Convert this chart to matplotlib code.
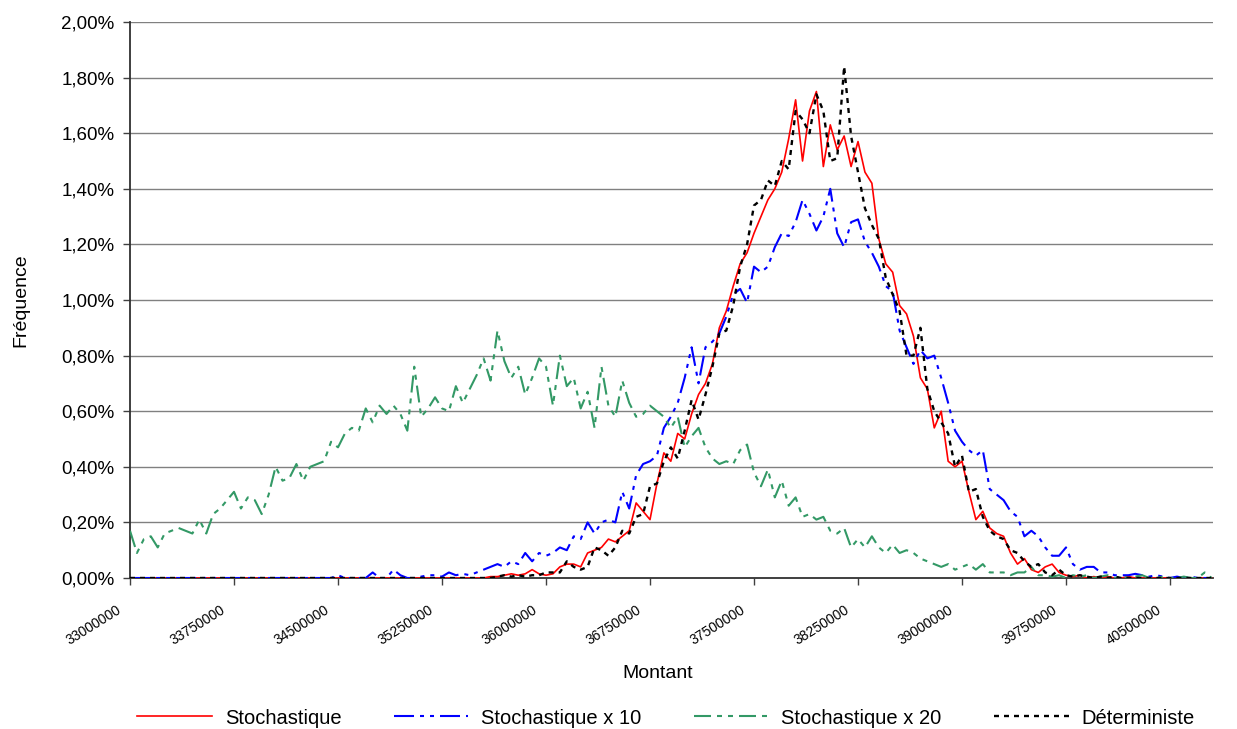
import numpy as np
import matplotlib
matplotlib.use("Agg")
import matplotlib.pyplot as plt
from matplotlib.ticker import FuncFormatter
from matplotlib.transforms import ScaledTranslation

plt.rcParams['font.family'] = ['Liberation Sans', 'DejaVu Sans']
plt.rcParams['lines.scale_dashes'] = False

# Category axis: Montant from 33 000 000 to 40 800 000, step 50 000 (157 categories)
montant = np.arange(33000000, 40800001, 50000)

# Frequencies in percent
stochastique = [0]*50 + [
    0, 0, 0.005, 0.005, 0.01, 0.015, 0.01, 0.015, 0.03, 0.015,
    0.01, 0.015, 0.04, 0.05, 0.05, 0.04, 0.09, 0.10, 0.11, 0.14,
    0.13, 0.15, 0.17, 0.27, 0.24, 0.21, 0.34, 0.45, 0.42, 0.52,
    0.50, 0.59, 0.66, 0.70, 0.77, 0.90, 0.96, 1.05, 1.13, 1.17,
    1.24, 1.30, 1.36, 1.40, 1.46, 1.58, 1.72, 1.50, 1.68, 1.75,
    1.48, 1.63, 1.54, 1.59, 1.48, 1.57, 1.46, 1.42, 1.22, 1.13,
    1.10, 0.98, 0.95, 0.87, 0.72, 0.68, 0.54, 0.60, 0.42, 0.40,
    0.42, 0.31, 0.21, 0.24, 0.18, 0.16, 0.15, 0.09, 0.05, 0.07,
    0.03, 0.02, 0.04, 0.05, 0.02, 0.01, 0.005, 0.01, 0, 0.005,
    0, 0.005, 0, 0, 0.005, 0, 0, 0, 0, 0,
    0, 0, 0, 0, 0, 0, 0]

stochastique_x10 = [0]*30 + [
    0.01, 0, 0, 0, 0, 0.02, 0, 0, 0.03, 0.01,
    0, 0, 0.005, 0.01, 0.01, 0.005, 0.02, 0.01, 0.015, 0.01,
    0.02, 0.03, 0.04, 0.05, 0.04, 0.06, 0.05, 0.09, 0.06, 0.09,
    0.08, 0.09, 0.11, 0.10, 0.15, 0.14, 0.20, 0.16, 0.20, 0.21,
    0.20, 0.31, 0.25, 0.37, 0.41, 0.42, 0.44, 0.54, 0.58, 0.63,
    0.72, 0.83, 0.70, 0.83, 0.85, 0.88, 0.94, 1.02, 1.04, 0.99,
    1.12, 1.10, 1.12, 1.19, 1.24, 1.23, 1.28, 1.36, 1.31, 1.25,
    1.30, 1.40, 1.24, 1.19, 1.28, 1.29, 1.21, 1.17, 1.12, 1.05,
    1.03, 0.89, 0.83, 0.77, 0.82, 0.79, 0.80, 0.72, 0.63, 0.53,
    0.49, 0.46, 0.44, 0.46, 0.32, 0.30, 0.28, 0.24, 0.22, 0.15,
    0.17, 0.15, 0.11, 0.08, 0.08, 0.11, 0.05, 0.03, 0.04, 0.04,
    0.02, 0.02, 0.01, 0.01, 0.01, 0.015, 0.01, 0.005, 0.01, 0.005,
    0, 0.005, 0, 0.005, 0, 0, 0]

stochastique_x20 = [
    0.17, 0.09, 0.14, 0.15, 0.11, 0.16, 0.17, 0.18, 0.17, 0.16,
    0.21, 0.16, 0.23, 0.25, 0.28, 0.31, 0.25, 0.29, 0.28, 0.23,
    0.30, 0.40, 0.35, 0.36, 0.41, 0.35, 0.40, 0.41, 0.42, 0.49,
    0.47, 0.52, 0.54, 0.53, 0.61, 0.56, 0.62, 0.59, 0.62, 0.59,
    0.53, 0.76, 0.58, 0.61, 0.65, 0.61, 0.60, 0.69, 0.63, 0.68,
    0.73, 0.79, 0.71, 0.89, 0.78, 0.72, 0.76, 0.66, 0.72, 0.79,
    0.76, 0.62, 0.80, 0.69, 0.72, 0.61, 0.67, 0.54, 0.76, 0.62,
    0.58, 0.71, 0.63, 0.58, 0.59, 0.62, 0.60, 0.58, 0.54, 0.58,
    0.47, 0.51, 0.54, 0.47, 0.43, 0.41, 0.42, 0.41, 0.46, 0.48,
    0.38, 0.33, 0.39, 0.29, 0.35, 0.26, 0.29, 0.22, 0.23, 0.21,
    0.22, 0.17, 0.16, 0.18, 0.11, 0.14, 0.11, 0.15, 0.11, 0.09,
    0.12, 0.09, 0.10, 0.09, 0.07, 0.06, 0.05, 0.04, 0.05, 0.03,
    0.04, 0.05, 0.03, 0.05, 0.02, 0.02, 0.02, 0.01, 0.02, 0.02,
    0.04, 0.01, 0.01, 0.005, 0.01, 0, 0.01, 0.005, 0.01, 0,
    0.005, 0.01, 0, 0.005, 0, 0.005, 0.01, 0, 0, 0.005,
    0, 0, 0.005, 0, 0, 0.02, 0]

deterministe = [0]*50 + [
    0, 0, 0, 0.005, 0.01, 0.005, 0.01, 0.005, 0.01, 0.01,
    0.02, 0.02, 0.02, 0.06, 0.04, 0.03, 0.04, 0.11, 0.10, 0.08,
    0.11, 0.17, 0.16, 0.22, 0.23, 0.33, 0.34, 0.42, 0.47, 0.43,
    0.53, 0.64, 0.57, 0.66, 0.76, 0.88, 0.89, 0.98, 1.12, 1.20,
    1.34, 1.36, 1.43, 1.41, 1.50, 1.47, 1.68, 1.65, 1.60, 1.74,
    1.68, 1.50, 1.51, 1.84, 1.59, 1.46, 1.33, 1.27, 1.22, 1.08,
    1.02, 0.96, 0.80, 0.80, 0.90, 0.68, 0.60, 0.56, 0.52, 0.40,
    0.44, 0.31, 0.32, 0.22, 0.17, 0.15, 0.14, 0.10, 0.09, 0.06,
    0.04, 0.05, 0.02, 0.01, 0.03, 0.01, 0.005, 0.01, 0.005, 0,
    0.005, 0, 0.005, 0, 0, 0, 0, 0, 0, 0,
    0, 0, 0, 0, 0, 0, 0]

series_labels = ["Stochastique", "Stochastique x 10", "Stochastique x 20", "Déterministe"]
xtick_values = [33000000 + 750000 * k for k in range(11)]
ytick_values = [0.0, 0.2, 0.4, 0.6, 0.8, 1.0, 1.2, 1.4, 1.6, 1.8, 2.0]

fig = plt.figure(figsize=(12.37, 7.29), dpi=100)
ax = fig.add_axes([130/1237, 151/729, 1083/1237, 556/729])

for yv in ytick_values[1:]:
    ax.axhline(yv, color='#808080', lw=1.0, zorder=1)

px = 0.72  # points per pixel at 100 dpi
ax.plot(montant, stochastique, color='#FF0000', lw=1.2, label=series_labels[0], zorder=3)
ax.plot(montant, stochastique_x10, color='#0000FF', lw=1.5, label=series_labels[1], zorder=4,
        dashes=(20*px, 6*px, 4*px, 6*px, 4*px, 6*px))
ax.plot(montant, stochastique_x20, color='#339966', lw=1.5, label=series_labels[2], zorder=5,
        dashes=(17*px, 6*px, 5*px, 6*px, 5*px, 6*px))
ax.plot(montant, deterministe, color='#000000', lw=1.7, label=series_labels[3], zorder=6,
        dashes=(5*px, 5*px))

ax.set_xlim(33000000, 40810000)
ax.set_ylim(0, 2.0)
ax.set_yticks(ytick_values)
ax.yaxis.set_major_formatter(FuncFormatter(lambda v, p: f"{v:.2f}%".replace('.', ',')))
ax.set_xticks(xtick_values)
ax.set_xticklabels([])
label_offset = ScaledTranslation(-10/100, -31/100, fig.dpi_scale_trans)
for v in xtick_values:
    ax.text(v, 0, str(v), transform=ax.get_xaxis_transform() + label_offset,
            rotation=32, ha='right', va='center', rotation_mode='anchor',
            fontsize=10, clip_on=False)
ax.tick_params(axis='y', labelsize=13.5, length=5, width=1, direction='out', pad=6, color='#404040')
ax.tick_params(axis='x', length=5, width=1, direction='out', color='#404040')

for s in ['top', 'right']:
    ax.spines[s].set_visible(False)
ax.spines['left'].set_color('#303030')
ax.spines['bottom'].set_color('#303030')
ax.spines['left'].set_linewidth(1.3)
ax.spines['bottom'].set_linewidth(1.3)

fig.text(658/1237, 1 - 673/729, "Montant", ha='center', va='center', fontsize=14)
fig.text(21/1237, 1 - 300/729, "Fréquence", ha='center', va='center', fontsize=14, rotation=90)

fig.legend(loc='center', bbox_to_anchor=(666/1237, 1 - 718/729), ncol=4, frameon=False,
           fontsize=14.5, handlelength=3.7, handletextpad=0.65, columnspacing=2.6)

fig.savefig("out.png", dpi=100)
